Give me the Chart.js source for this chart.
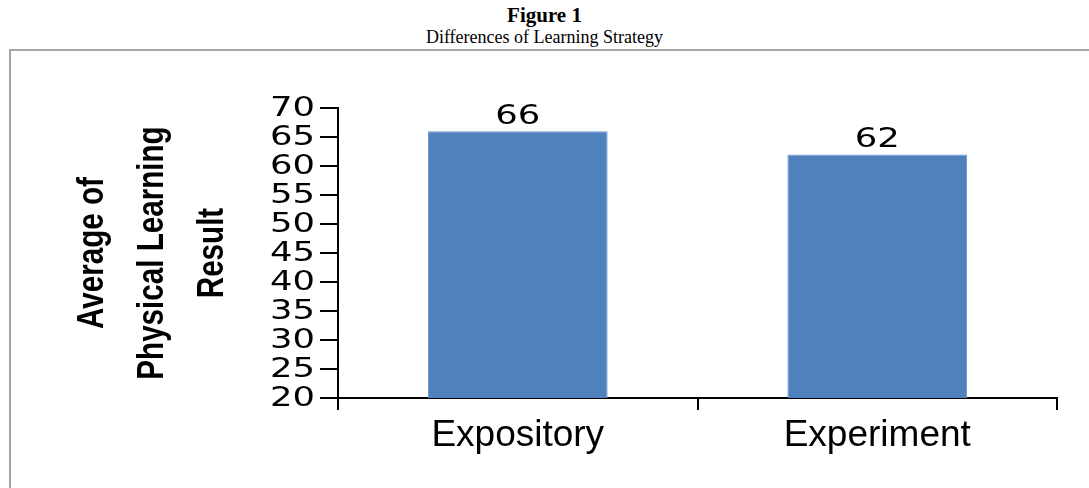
<!DOCTYPE html>
<html>
<head>
<meta charset="utf-8">
<script src="https://cdn.jsdelivr.net/npm/chart.js@4.4.1/dist/chart.umd.min.js"></script>
<style>
  html, body { margin: 0; padding: 0; background: #fff; }
  body { width: 1089px; height: 488px; position: relative; overflow: hidden; }
  .head { position: absolute; left: 0; width: 1089px; text-align: center; font-family: "Liberation Serif", serif; color: #000; }
  #fig { top: 3px; font-weight: bold; font-size: 21px; }
  #sub { top: 27px; font-size: 18px; }
  #box { position: absolute; left: 9px; top: 49px; width: 1200px; height: 600px; border: 2px solid #a6a6a6; }
  #wrap { position: absolute; left: 0; top: 0; width: 1089px; height: 488px; }
</style>
</head>
<body>
<div class="head" id="fig">Figure 1</div>
<div class="head" id="sub">Differences of Learning Strategy</div>
<div id="box"></div>
<div id="wrap"><canvas id="c"></canvas></div>
<script>
// chart data
const categories = ['Expository', 'Experiment'];
const averages = [66, 62];
const yTitle = ['Average of', 'Physical Learning', 'Result'];
const yMin = 20, yMax = 70, yStep = 5;

// Excel-style stretched text for tick labels and value labels
function wideText(ctx, text, x, y, align, baseline) {
  ctx.save();
  ctx.translate(x, y);
  ctx.scale(1.36, 1);
  ctx.font = '26px "DejaVu Sans"';
  ctx.fillStyle = '#000';
  ctx.textAlign = align;
  ctx.textBaseline = baseline;
  ctx.fillText(text, 0, 0);
  ctx.restore();
}

const labelsPlugin = {
  id: 'labels',
  afterDraw(chart) {
    const ctx = chart.ctx;
    const y = chart.scales.y;
    y.ticks.forEach((t, i) => {
      wideText(ctx, String(t.value), y.right - 23, y.getPixelForTick(i) + 1, 'right', 'middle');
    });
    chart.getDatasetMeta(0).data.forEach((bar, i) => {
      wideText(ctx, String(averages[i]), bar.x, bar.y - 7, 'center', 'alphabetic');
    });
    // condensed bold axis title, three lines, rotated
    const mid = (y.top + y.bottom) / 2;
    yTitle.forEach((line, i) => {
      ctx.save();
      ctx.translate(y.left + 93 + i * 60, mid);
      ctx.rotate(-Math.PI / 2);
      ctx.scale(0.8, 1);
      ctx.font = 'bold 37px "Liberation Sans"';
      ctx.fillStyle = '#000';
      ctx.textAlign = 'center';
      ctx.textBaseline = 'middle';
      ctx.fillText(line, 0, 0);
      ctx.restore();
    });
  }
};

new Chart(document.getElementById('c'), {
  type: 'bar',
  data: {
    labels: categories,
    datasets: [{
      data: averages,
      backgroundColor: '#4f81bd',
      borderColor: '#6a95c9',
      borderWidth: 1,
      categoryPercentage: 1,
      barPercentage: 0.5
    }]
  },
  options: {
    responsive: true,
    maintainAspectRatio: false,
    animation: false,
    events: [],
    layout: { padding: { top: 108, right: 32, bottom: 0, left: 0 } },
    plugins: { legend: { display: false }, tooltip: { enabled: false } },
    scales: {
      x: {
        afterFit: s => { s.height = 90; },
        border: { display: true, color: '#000', width: 2 },
        grid: { display: true, drawOnChartArea: false, color: '#000', lineWidth: 2, tickLength: 12, offset: true },
        ticks: { color: '#000', font: { family: '"Liberation Sans", Arial, sans-serif', size: 37 }, padding: 4 }
      },
      y: {
        min: yMin,
        max: yMax,
        afterFit: s => { s.width = 338; },
        border: { display: true, color: '#000', width: 2 },
        grid: { display: true, drawOnChartArea: false, color: '#000', lineWidth: 2, tickLength: 18 },
        ticks: { stepSize: yStep, display: false }
      }
    }
  },
  plugins: [labelsPlugin]
});
</script>
</body>
</html>
